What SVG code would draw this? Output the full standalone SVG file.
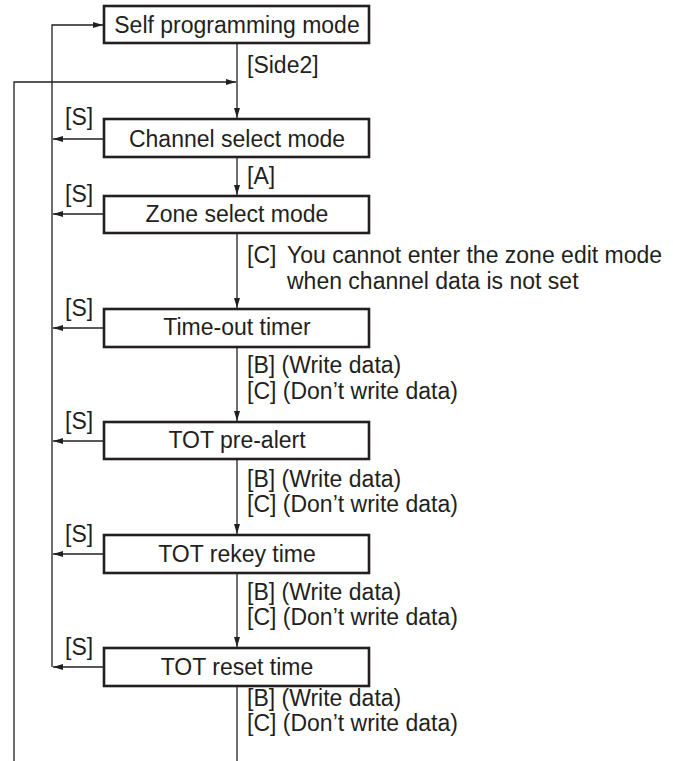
<svg xmlns="http://www.w3.org/2000/svg" width="673" height="761" viewBox="0 0 673 761">
<defs>
<style>
.box{fill:#fff;stroke:#231f20;stroke-width:2.6}
.ln{fill:none;stroke:#231f20;stroke-width:1.3}
.t{font-family:"Liberation Sans",Arial,sans-serif;font-size:23px;fill:#231f20}
.c{text-anchor:middle}
</style>
<marker id="ah" viewBox="0 0 10 6" refX="10" refY="3" markerWidth="10" markerHeight="6" markerUnits="userSpaceOnUse" orient="auto">
<path d="M0,0 L10,3 L0,6 Z" fill="#231f20"/>
</marker>
</defs>
<rect width="673" height="761" fill="#fff"/>
<g id="connectors">
<path class="ln" d="M52,667 V25 H103" marker-end="url(#ah)"/>
<path class="ln" d="M14,761 V82 H236" marker-end="url(#ah)"/>
<path class="ln" d="M237,43 V118" marker-end="url(#ah)"/>
<path class="ln" d="M237,157 V195" marker-end="url(#ah)"/>
<path class="ln" d="M237,233 V308" marker-end="url(#ah)"/>
<path class="ln" d="M237,347 V421" marker-end="url(#ah)"/>
<path class="ln" d="M237,459 V534" marker-end="url(#ah)"/>
<path class="ln" d="M237,573 V647" marker-end="url(#ah)"/>
<path class="ln" d="M237,686 V761"/>
<path class="ln" d="M104,139 H53" marker-end="url(#ah)"/>
<path class="ln" d="M104,214 H53" marker-end="url(#ah)"/>
<path class="ln" d="M104,328 H53" marker-end="url(#ah)"/>
<path class="ln" d="M104,441 H53" marker-end="url(#ah)"/>
<path class="ln" d="M104,554 H53" marker-end="url(#ah)"/>
<path class="ln" d="M104,667 H53" marker-end="url(#ah)"/>
<text class="t" x="247" y="73">[Side2]</text>
<text class="t" x="65" y="125">[S]</text>
<text class="t" x="247" y="184">[A]</text>
<text class="t" x="65" y="202">[S]</text>
<text class="t" y="263"><tspan x="247">[C]</tspan><tspan x="287">You cannot enter the zone edit mode</tspan></text>
<text class="t" x="287" y="289">when channel data is not set</text>
<text class="t" x="65" y="316">[S]</text>
<text class="t" x="247" y="373">[B] (Write data)</text>
<text class="t" x="247" y="399">[C] (Don’t write data)</text>
<text class="t" x="65" y="429">[S]</text>
<text class="t" x="247" y="487">[B] (Write data)</text>
<text class="t" x="247" y="512">[C] (Don’t write data)</text>
<text class="t" x="65" y="542">[S]</text>
<text class="t" x="247" y="600">[B] (Write data)</text>
<text class="t" x="247" y="625">[C] (Don’t write data)</text>
<text class="t" x="65" y="655">[S]</text>
<text class="t" x="247" y="706">[B] (Write data)</text>
<text class="t" x="247" y="731">[C] (Don’t write data)</text>
</g>
<g id="n-self"><rect class="box" x="104" y="6" width="265" height="37"/><text class="t c" x="237" y="33">Self programming mode</text></g>
<g id="n-channel"><rect class="box" x="104" y="119" width="265" height="38"/><text class="t c" x="237" y="147">Channel select mode</text></g>
<g id="n-zone"><rect class="box" x="104" y="196" width="265" height="37"/><text class="t c" x="237" y="222">Zone select mode</text></g>
<g id="n-tot"><rect class="box" x="104" y="309" width="265" height="38"/><text class="t c" x="237" y="335">Time-out timer</text></g>
<g id="n-prealert"><rect class="box" x="104" y="422" width="265" height="37"/><text class="t c" x="237" y="448">TOT pre-alert</text></g>
<g id="n-rekey"><rect class="box" x="104" y="535" width="265" height="38"/><text class="t c" x="237" y="562">TOT rekey time</text></g>
<g id="n-reset"><rect class="box" x="104" y="648" width="265" height="38"/><text class="t c" x="237" y="675">TOT reset time</text></g>
</svg>
